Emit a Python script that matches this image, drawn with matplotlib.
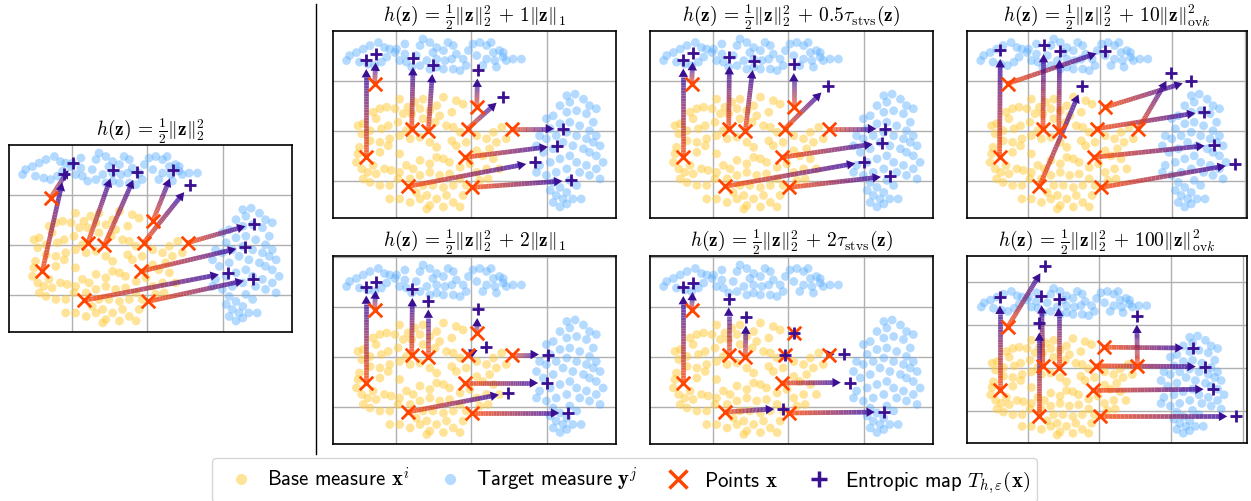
import numpy as np
import matplotlib
matplotlib.use("Agg")
import matplotlib.pyplot as plt
from matplotlib.collections import LineCollection
from matplotlib.colors import LinearSegmentedColormap
from matplotlib.patches import FancyArrowPatch
from matplotlib.lines import Line2D

plt.rcParams["mathtext.fontset"] = "cm"

# base measure x^i (yellow cloud)
base_x = [-0.95, -0.84, -0.75, -0.64, -0.68, -0.55, -0.46, -0.37, -0.20, -0.11, -0.26, -0.42, -0.48, -0.64,
          -0.79, -0.90, -1.01, -1.12, -1.21, -1.30, -1.26, -1.43, -1.50, -1.45, -1.34, -1.19, -1.10, -0.97,
          -0.86, -0.95, -1.08, -1.21, -1.34, -1.48, -1.50, -1.52, -1.45, -1.37, -1.30, -1.21, -1.10, -0.95,
          -0.81, -0.68, -0.55, -0.46, -0.33, -0.24, -0.15, -0.26, -0.20, -0.07, 0.07, 0.20, 0.29, 0.40,
          0.46, 0.33, 0.24, 0.15, 0.07, 0.29, 0.37, 0.20, 0.07, -0.02, -0.15, -0.29, -0.37, -0.46, -0.55,
          -0.68, -0.77, -0.86, -0.95, -1.06, -1.15, -1.26, -1.34, -1.43, -1.21, -1.08, -0.97, -0.81, -0.68,
          -0.55, -0.42, -0.29, -0.15, -0.07, -0.24, -0.37, -0.51, -0.64, -0.73, -0.68, -0.59, -0.55, -0.46,
          -0.33, -0.24, -0.15, -0.11, -0.81, -0.95, -1.08, -0.59, -0.37, 0.11, 0.22]
base_y = [0.64, 0.48, 0.58, 0.64, 0.45, 0.41, 0.51, 0.68, 0.61, 0.54, 0.38, 0.31, 0.18, 0.25,
          0.35, 0.35, 0.45, 0.48, 0.45, 0.38, 0.25, 0.15, 0.11, -0.05, 0.01, 0.05, 0.11, 0.18,
          0.01, -0.09, -0.15, -0.22, -0.19, -0.32, -0.45, -0.62, -0.75, -0.82, -0.68, -0.42, -0.29, -0.45,
          -0.15, -0.12, -0.22, -0.32, 0.11, 0.08, -0.02, -0.19, -0.29, -0.22, -0.09, -0.15, -0.02, 0.08,
          -0.15, -0.22, -0.35, -0.49, -0.39, -0.55, -0.75, -0.75, -0.82, -0.65, -0.72, -0.62, -0.55, -0.52, -0.65,
          -0.58, -0.75, -0.68, -0.82, -0.78, -0.75, -0.85, -1.02, -0.95, -1.08, -1.08, -0.95, -0.95, -0.88,
          -0.82, -0.88, -0.85, -0.95, -1.08, -1.08, -1.12, -1.08, -1.08, -1.22, -1.35, -1.28, -1.48, -1.35,
          -1.28, -1.42, -1.51, -1.28, -1.42, -1.35, -1.35, -1.55, -1.51, -0.98, -0.95]

# target measure y^j (blue cloud)
target_x = [-1.65, -1.61, -1.52, -1.43, -1.34, -1.23, -1.15, -1.08, -1.12, -1.19, -1.28, -1.37, -1.48, -0.99,
            -0.88, -0.95, -0.86, -0.79, -0.73, -0.68, -0.64, -0.55, -0.46, -0.51, -0.37, -0.31, -0.24, -0.20,
            -0.26, -0.35, -0.46, -0.59, -0.68, -0.55, -0.46, -0.24, -0.15, -0.07, -0.11, -0.04, 0.02, 0.11,
            0.20, 0.26, 0.29, 0.37, 0.42, 0.31, 0.20, 0.07, 0.15, 0.33, 0.46, 0.55, 0.66, 0.42, -0.37, -0.88,
            -1.01,
            1.26, 1.37, 1.48, 1.56, 1.65, 1.30, 1.17, 1.26, 1.39, 1.52, 1.61, 1.08, 0.99, 1.04, 1.17, 1.30,
            1.43, 1.56, 1.65, 1.70, 1.61, 1.52, 1.39, 1.26, 1.12, 0.99, 0.90, 0.86, 0.95, 1.08, 1.21, 1.34,
            1.48, 1.56, 1.65, 1.74, 1.65, 1.52, 1.39, 1.30, 1.17, 1.04, 0.90, 0.86, 0.99, 1.12, 1.26, 1.43,
            1.56, 1.70, 1.08, 1.17, 1.26, 1.12, 1.21, 1.08, 1.17, 1.26, 1.34, 1.45, 1.39, 1.30, 1.04]
target_y = [1.41, 1.51, 1.57, 1.64, 1.71, 1.77, 1.67, 1.64, 1.48, 1.38, 1.31, 1.34, 1.38, 1.64,
            1.54, 1.41, 1.38, 1.28, 1.51, 1.71, 1.84, 1.77, 1.67, 1.57, 1.61, 1.77, 1.71, 1.54,
            1.44, 1.41, 1.44, 1.41, 1.31, 1.24, 1.28, 1.24, 1.21, 1.31, 1.44, 1.61, 1.74, 1.77,
            1.71, 1.77, 1.57, 1.61, 1.48, 1.41, 1.44, 1.51, 1.31, 1.28, 1.41, 1.44, 1.44, 1.57, 1.24, 1.74,
            1.57,
            0.71, 0.74, 0.64, 0.51, 0.45, 0.58, 0.51, 0.38, 0.41, 0.35, 0.18, 0.31, 0.25, 0.05, 0.15, 0.18,
            0.11, 0.01, -0.09, -0.29, -0.22, -0.15, -0.09, -0.02, -0.09, -0.15, -0.09, -0.29, -0.42, -0.35, -0.22, -0.29,
            -0.35, -0.42, -0.49, -0.62, -0.75, -0.68, -0.62, -0.49, -0.55, -0.62, -0.68, -0.82, -0.88, -0.82, -0.75, -0.82,
            -0.88, -0.95, -1.02, -1.12, -1.22, -1.28, -1.35, -1.42, -1.51, -1.45, -1.35, -1.35, -1.08, -0.98, -1.18]

# points x (red crosses), same in every panel
points_x = [-1.28, -1.39, -0.79, -0.57, 0.07, -0.05, 0.53, -0.09, -0.84, 0.01]
points_y = [0.95, -0.52, 0.04, 0.00, 0.48, 0.05, 0.05, -0.52, -1.10, -1.12]

# entropic map T(x) for each regulariser
map_l2_x = [-0.98, -1.10, -0.45, -0.14, 0.34, 0.56, 1.41, 1.29, 1.06, 1.39]
map_l2_y = [1.65, 1.43, 1.50, 1.47, 1.50, 1.20, 0.43, -0.03, -0.55, -0.67]
map_l1_1_x = [-1.26, -1.39, -0.77, -0.51, 0.08, 0.42, 1.21, 1.13, 0.84, 1.32]
map_l1_1_y = [1.55, 1.42, 1.46, 1.32, 1.23, 0.69, 0.05, -0.29, -0.62, -0.98]
map_stvs_05_x = [-1.26, -1.39, -0.78, -0.46, 0.07, 0.52, 1.28, 1.23, 1.00, 1.34]
map_stvs_05_y = [1.56, 1.43, 1.48, 1.40, 1.34, 0.90, 0.05, -0.23, -0.61, -0.89]
map_ovk_10_x = [0.07, -1.38, -0.78, -0.56, 1.26, 1.44, 0.98, 1.57, -0.25, 1.86]
map_ovk_10_y = [1.61, 1.62, 1.72, 1.61, 1.01, 0.39, 1.16, -0.27, 0.90, -0.66]
map_l1_2_x = [-1.26, -1.39, -0.78, -0.57, 0.08, 0.19, 1.01, 1.00, 0.48, 1.28]
map_l1_2_y = [1.51, 1.41, 1.36, 1.13, 0.96, 0.21, 0.05, -0.52, -0.72, -1.12]
map_stvs_2_x = [-1.26, -1.39, -0.79, -0.56, 0.07, -0.05, 0.73, 0.81, -0.07, 1.26]
map_stvs_2_y = [1.48, 1.40, 1.17, 0.81, 0.48, 0.05, 0.07, -0.51, -1.03, -1.10]
map_ovk_100_x = [-0.76, -1.39, -0.81, -0.57, 1.30, 1.47, 0.52, 1.58, -0.84, 1.91]
map_ovk_100_y = [2.37, 1.65, 1.66, 1.60, 0.46, 0.03, 1.21, -0.49, 1.03, -1.12]

HALF = r"h(\mathbf{z})\,=\,\frac{1}{2}\|\mathbf{z}\|_2^2"
panels = [
    ("$" + HALF + "$", map_l2_x, map_l2_y, (9, 146, 292, 333), (-1.83, 1.91), (-1.73, 2.0)),
    ("$" + HALF + r"\,+\,1\|\mathbf{z}\|_1$", map_l1_1_x, map_l1_1_y, (333, 32, 616, 219), (-1.83, 1.91), (-1.73, 2.0)),
    ("$" + HALF + r"\,+\,0.5\tau_{\mathrm{stvs}}(\mathbf{z})$", map_stvs_05_x, map_stvs_05_y, (650, 32, 933, 219), (-1.83, 1.91), (-1.73, 2.0)),
    ("$" + HALF + r"\,+\,10\|\mathbf{z}\|_{\mathrm{ov}k}^2$", map_ovk_10_x, map_ovk_10_y, (967, 32, 1247, 219), (-1.84, 2.03), (-1.73, 2.0)),
    ("$" + HALF + r"\,+\,2\|\mathbf{z}\|_1$", map_l1_2_x, map_l1_2_y, (333, 257, 616, 445), (-1.83, 1.91), (-1.74, 2.02)),
    ("$" + HALF + r"\,+\,2\tau_{\mathrm{stvs}}(\mathbf{z})$", map_stvs_2_x, map_stvs_2_y, (650, 257, 933, 445), (-1.83, 1.91), (-1.74, 2.02)),
    ("$" + HALF + r"\,+\,100\|\mathbf{z}\|_{\mathrm{ov}k}^2$", map_ovk_100_x, map_ovk_100_y, (967, 257, 1247, 444), (-1.85, 2.06), (-1.735, 2.59)),
]

YELLOW = "#FFC933"
BLUE = "#5AAEFF"
RED = "#FF4500"
PURPLE = "#3A0F91"
arrow_cmap = LinearSegmentedColormap.from_list("arr", [RED, "#3A0CA3"])

W, H = 1251, 502
fig = plt.figure(figsize=(W / 100, H / 100), dpi=100)


def draw_arrow(ax, p0, p1):
    p0 = np.asarray(p0, float)
    p1 = np.asarray(p1, float)
    d = ax.transData.transform(p1) - ax.transData.transform(p0)
    L = np.hypot(*d)
    if L < 12:
        return
    tip = p0 + (p1 - p0) * (1 - 9 / L)
    hb = p0 + (p1 - p0) * (1 - 17 / L)
    ts = np.linspace(0, 1, 31)
    pts = p0 + np.outer(ts, hb - p0)
    segs = np.stack([pts[:-1], pts[1:]], axis=1)
    ax.add_collection(LineCollection(segs, colors=arrow_cmap(ts[:-1]), linewidths=3.4,
                                     alpha=0.78, capstyle="butt", zorder=3))
    ax.add_patch(FancyArrowPatch(hb, tip, arrowstyle="-|>,head_length=0.6,head_width=0.34",
                                 mutation_scale=10, color=PURPLE, lw=0,
                                 shrinkA=0, shrinkB=0, zorder=3))


for title, tx, ty, (x0, y0, x1, y1), xl, yl in panels:
    ax = fig.add_axes([x0 / W, 1 - y1 / H, (x1 - x0) / W, (y1 - y0) / H])
    ax.set_xlim(xl)
    ax.set_ylim(yl)
    ax.set_xticks([v for v in [-1, 0, 1, 2] if v < xl[1]])
    ax.set_yticks([v for v in [-1, 0, 1, 2] if v < yl[1]])
    ax.tick_params(length=0, labelbottom=False, labelleft=False)
    ax.grid(True, color="#b0b0b0", lw=1)
    ax.set_axisbelow(True)
    for s in ax.spines.values():
        s.set_linewidth(1.2)
    ax.set_title(title, fontsize=14, pad=3)

    ax.scatter(base_x, base_y, s=40, color=YELLOW, alpha=0.5, edgecolors="none", zorder=1)
    ax.scatter(target_x, target_y, s=40, color=BLUE, alpha=0.45, edgecolors="none", zorder=1)
    for px, py, qx, qy in zip(points_x, points_y, tx, ty):
        draw_arrow(ax, (px, py), (qx, qy))
    ax.scatter(points_x, points_y, marker="x", s=95, color=RED, linewidths=2, zorder=4)
    ax.scatter(tx, ty, marker="+", s=70, color=PURPLE, linewidths=2, zorder=5)

fig.add_artist(Line2D([316 / W, 316 / W], [1 - 5 / H, 1 - 455 / H], color="black", lw=1))

handles = [
    Line2D([], [], ls="none", marker="o", ms=8, color=YELLOW, alpha=0.5, mec="none"),
    Line2D([], [], ls="none", marker="o", ms=8, color=BLUE, alpha=0.45, mec="none"),
    Line2D([], [], ls="none", marker="x", ms=13, mew=2.5, color=RED),
    Line2D([], [], ls="none", marker="+", ms=11, mew=2.5, color=PURPLE),
]
labels = [
    r"$\mathsf{Base\ measure}\ \mathbf{x}^i$",
    r"$\mathsf{Target\ measure}\ \mathbf{y}^j$",
    r"$\mathsf{Points}\ \mathbf{x}$",
    r"$\mathsf{Entropic\ map}\ T_{h,\varepsilon}(\mathbf{x})$",
]
fig.legend(handles, labels, loc="center", bbox_to_anchor=(624.5 / W, 1 - 481 / H), ncol=4,
           fontsize=15, handlelength=2.1, handletextpad=0.2, columnspacing=0.9,
           frameon=True, fancybox=True, edgecolor="#cccccc", borderpad=0.35)

fig.savefig("out.png", dpi=100)
